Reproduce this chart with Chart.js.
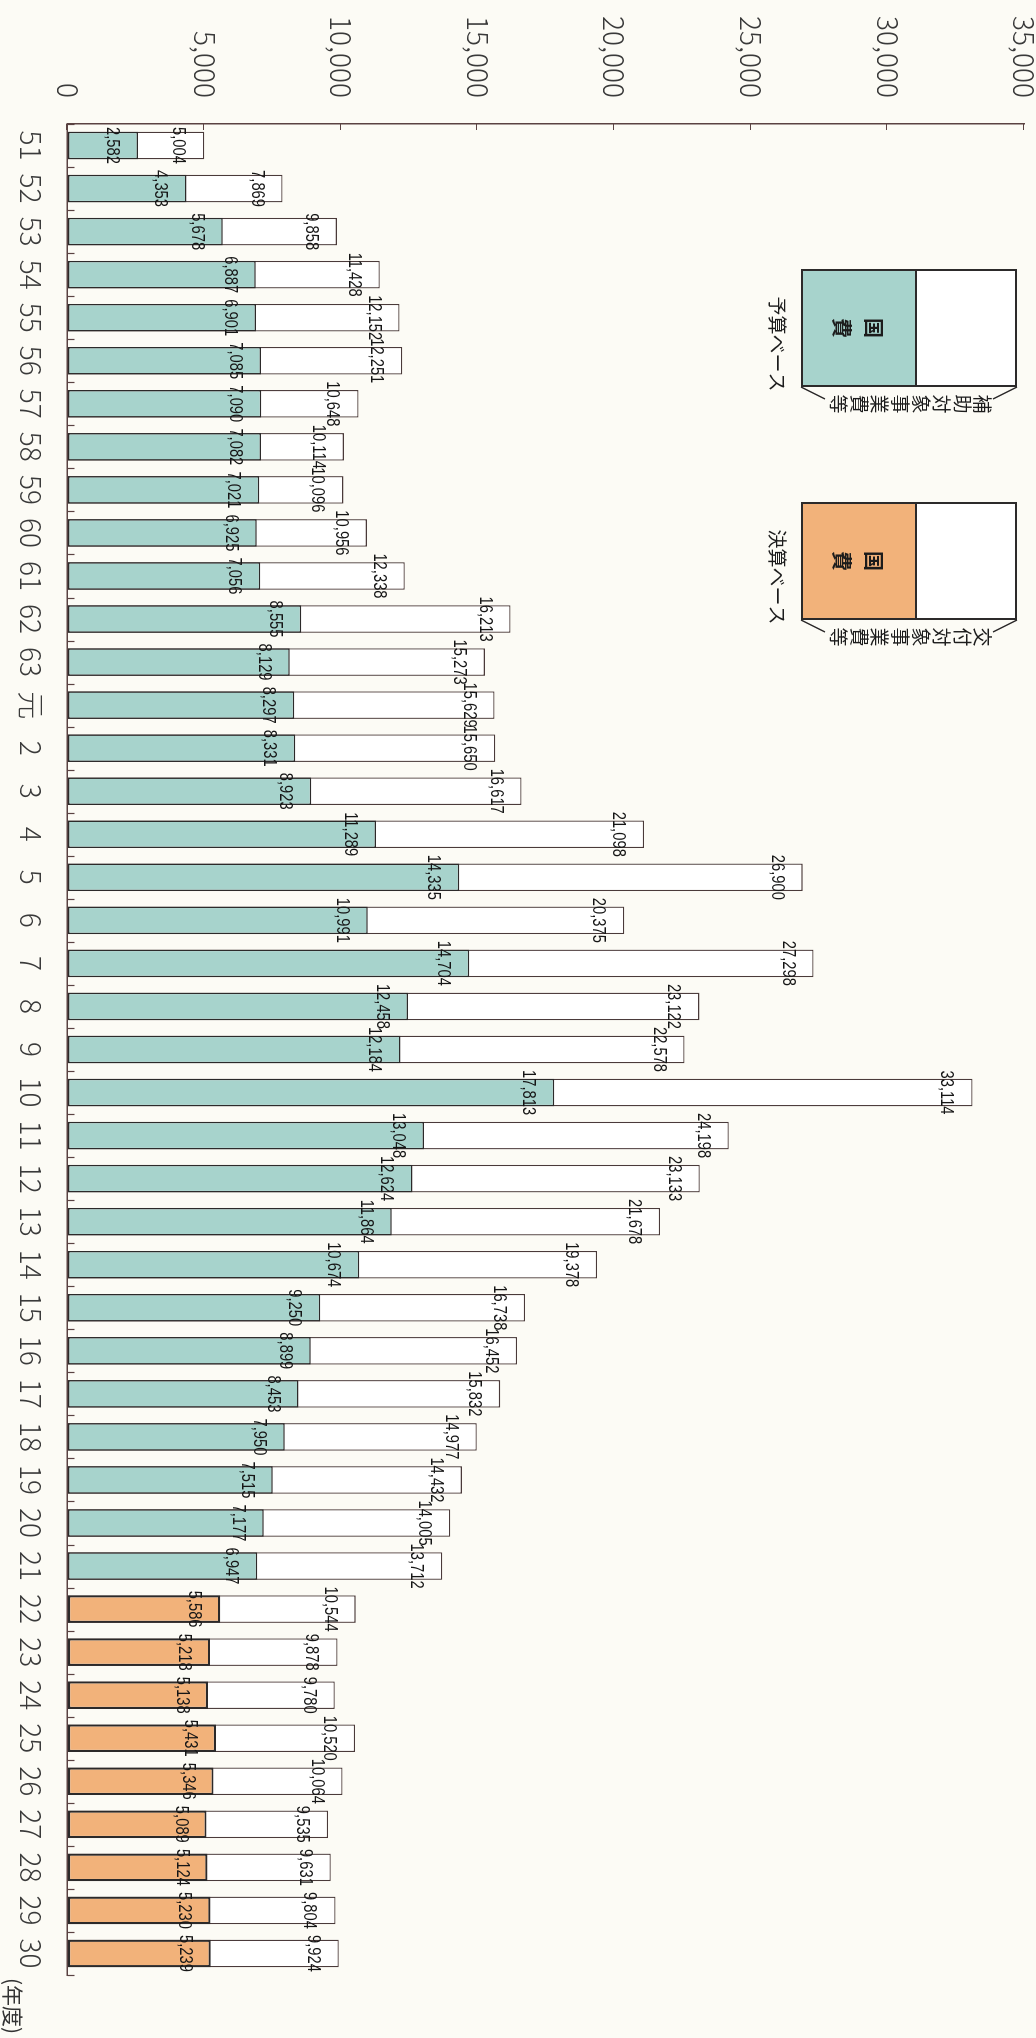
<!DOCTYPE html>
<html lang="ja">
<head>
<meta charset="utf-8">
<title>国費と補助対象事業費等の推移</title>
<script src="https://cdn.jsdelivr.net/npm/chart.js@4/dist/chart.umd.min.js"></script>
<style>
  html, body { margin: 0; padding: 0; width: 1036px; height: 2038px; overflow: hidden; background: #fcfbf5; }
  /* the chart is laid out landscape and turned a quarter clockwise onto the portrait page */
  #turn { position: absolute; left: 0; top: 0; width: 2038px; height: 1036px;
          transform-origin: 0 0; transform: translate(1036px, 0) rotate(90deg); }
  canvas { display: block; }
</style>
</head>
<body>
<div id="turn"><canvas id="chart" width="2038" height="1036"></canvas></div>
<script>
// fiscal years (昭和51〜63, 平成元〜30)
const years = ['51','52','53','54','55','56','57','58','59','60','61','62','63','元',
  '2','3','4','5','6','7','8','9','10','11','12','13','14','15','16','17','18','19','20',
  '21','22','23','24','25','26','27','28','29','30'];

// 国費 (national share)
const nationalCost = [2582, 4353, 5678, 6887, 6901, 7085, 7090, 7082, 7021, 6925, 7056, 8555, 8129, 8297,
  8331, 8923, 11289, 14335, 10991, 14704, 12458, 12184, 17813, 13048, 12624, 11864, 10674, 9250, 8899,
  8453, 7950, 7515, 7177, 6947, 5586, 5218, 5138, 5431, 5346, 5089, 5124, 5230, 5239];

// 補助対象事業費等 / 交付対象事業費等 (total project cost)
const projectCost = [5004, 7869, 9858, 11428, 12152, 12251, 10648, 10114, 10096, 10956, 12338, 16213, 15273, 15629,
  15650, 16617, 21098, 26900, 20375, 27298, 23122, 22578, 33114, 24198, 23133, 21678, 19378, 16738, 16452,
  15832, 14977, 14432, 14005, 13712, 10544, 9878, 9780, 10520, 10064, 9535, 9631, 9804, 9924];

// years reported on a settlement basis (決算ベース); the rest are budget basis (予算ベース)
const settlementYears = ['22','23','24','25','26','27','28','29','30'];

// value axis tick marks
const valueTicks = [0, 5000, 10000, 15000, 20000, 25000, 30000, 35000];

const TEAL = '#a7d3cc';
const ORANGE = '#f2b27a';
const INK = '#2c2a2a';
const AXIS = '#5a4242';
const CJK = '"Noto Sans CJK JP", "Noto Sans CJK SC", sans-serif';

const isSettlement = years.map(y => settlementYears.includes(y));

// small inward tick marks on both axes
const inwardTicks = {
  id: 'inwardTicks',
  afterDatasetsDraw(chart) {
    const { ctx, chartArea, scales } = chart;
    ctx.save();
    ctx.strokeStyle = AXIS;
    ctx.lineWidth = 1.2;
    ctx.beginPath();
    valueTicks.forEach(v => {
      const y = Math.round(scales.y.getPixelForValue(v)) + 0.5;
      ctx.moveTo(chartArea.left, y);
      ctx.lineTo(chartArea.left + 6, y);
    });
    const xs = scales.x;
    const step = xs.width / years.length;
    for (let i = 0; i <= years.length; i++) {
      const x = Math.round(xs.left + i * step) + 0.5;
      ctx.moveTo(x, chartArea.bottom);
      ctx.lineTo(x, chartArea.bottom - 7);
    }
    ctx.stroke();
    ctx.restore();
  }
};

// value printed just inside the end of every bar
const barValues = {
  id: 'barValues',
  afterDatasetsDraw(chart) {
    const ctx = chart.ctx;
    ctx.save();
    ctx.font = '18px "Liberation Sans", Arial, sans-serif';
    ctx.fillStyle = '#161616';
    ctx.textAlign = 'center';
    ctx.textBaseline = 'alphabetic';
    chart.data.datasets.forEach((ds, di) => {
      chart.getDatasetMeta(di).data.forEach((bar, i) => {
        ctx.save();
        ctx.translate(bar.x, bar.y + 31);
        ctx.scale(0.82, 1);
        ctx.fillText(ds.data[i].toLocaleString('en-US'), 0, 0);
        ctx.restore();
      });
    });
    ctx.restore();
  }
};

// key: one sample bar per basis, with a bracket naming the full bar
const legendItems = [
  { basis: '予算ベース', share: '国費', total: '補助対象事業費等', colour: TEAL, left: 270 },
  { basis: '決算ベース', share: '国費', total: '交付対象事業費等', colour: ORANGE, left: 503 }
];

function verticalText(ctx, text, cx, top, step) {
  [...text].forEach((ch, i) => ctx.fillText(ch, cx, top + step * (i + 0.5)));
}

const keyPanel = {
  id: 'keyPanel',
  afterDraw(chart) {
    const ctx = chart.ctx;
    const w = 116, top = 20, split = 120, bottom = 234;
    ctx.save();
    legendItems.forEach(item => {
      const l = item.left, r = l + w, cx = l + w / 2;
      ctx.fillStyle = '#ffffff';
      ctx.fillRect(l, top, w, split - top);
      ctx.fillStyle = item.colour;
      ctx.fillRect(l, split, w, bottom - split);
      ctx.strokeStyle = INK;
      ctx.lineWidth = 2;
      ctx.strokeRect(l, top, w, bottom - top);
      ctx.beginPath();
      ctx.moveTo(l, split); ctx.lineTo(r, split);
      ctx.stroke();

      ctx.fillStyle = '#1c1c1c';
      ctx.textAlign = 'center';
      ctx.textBaseline = 'middle';
      ctx.font = 'bold 20px ' + CJK;
      verticalText(ctx, item.share, cx, 146, 32);

      // bracket along the right side of the sample bar
      ctx.lineWidth = 1.5;
      ctx.beginPath();
      ctx.moveTo(r + 1, bottom + 1); ctx.lineTo(r + 13, bottom - 23);
      ctx.moveTo(r + 1, top - 1); ctx.lineTo(r + 13, top + 23);
      ctx.stroke();
      ctx.font = '19px ' + CJK;
      verticalText(ctx, item.total, r + 18, 43, 20.6);

      ctx.font = '19px ' + CJK;
      ctx.textBaseline = 'alphabetic';
      ctx.fillText(item.basis, cx + 16, 266);
    });
    ctx.font = '21px ' + CJK;
    ctx.textAlign = 'left';
    ctx.textBaseline = 'alphabetic';
    ctx.fillStyle = '#333';
    ctx.fillText('(年度)', chart.chartArea.right + 3, 1031);
    ctx.restore();
  }
};

new Chart(document.getElementById('chart'), {
  type: 'bar',
  data: {
    labels: years,
    datasets: [
      {
        label: '国費',
        data: nationalCost,
        order: 0,
        backgroundColor: isSettlement.map(s => s ? ORANGE : TEAL),
        borderColor: INK,
        borderWidth: isSettlement.map(s => s ? 2.2 : 1.5),
        borderSkipped: false
      },
      {
        label: '補助対象事業費等',
        data: projectCost,
        order: 1,
        backgroundColor: '#ffffff',
        borderColor: '#4a3a3a',
        borderWidth: 1.3,
        borderSkipped: false
      }
    ]
  },
  options: {
    responsive: false,
    devicePixelRatio: 1,
    animation: false,
    grouped: false,
    categoryPercentage: 1,
    barPercentage: 0.64,
    layout: { padding: { top: 12, right: 63, left: 0, bottom: 0 } },
    plugins: { legend: { display: false }, tooltip: { enabled: false } },
    scales: {
      x: {
        offset: true,
        grid: { display: true, drawOnChartArea: false, drawTicks: false },
        border: { display: true, color: AXIS, width: 1.5 },
        ticks: { font: { family: CJK, size: 28, weight: 300 }, color: '#3a3a3a', padding: 20,
                 maxRotation: 0, minRotation: 0, autoSkip: false },
        afterFit(s) { s.height = 67.5; s.paddingLeft = 0; s.paddingRight = 0; }
      },
      y: {
        min: 0,
        max: 35000,
        grid: { display: true, drawOnChartArea: false, drawTicks: false },
        border: { display: true, color: AXIS, width: 1.5 },
        afterBuildTicks(s) { s.ticks = valueTicks.map(v => ({ value: v })); },
        ticks: { font: { family: CJK, size: 28, weight: 300 }, color: '#3a3a3a', padding: 26,
                 callback: v => v.toLocaleString('en-US') },
        afterFit(s) { s.width = 124; s.paddingTop = 0; s.paddingBottom = 0; }
      }
    }
  },
  plugins: [inwardTicks, barValues, keyPanel]
});
</script>
</body>
</html>
